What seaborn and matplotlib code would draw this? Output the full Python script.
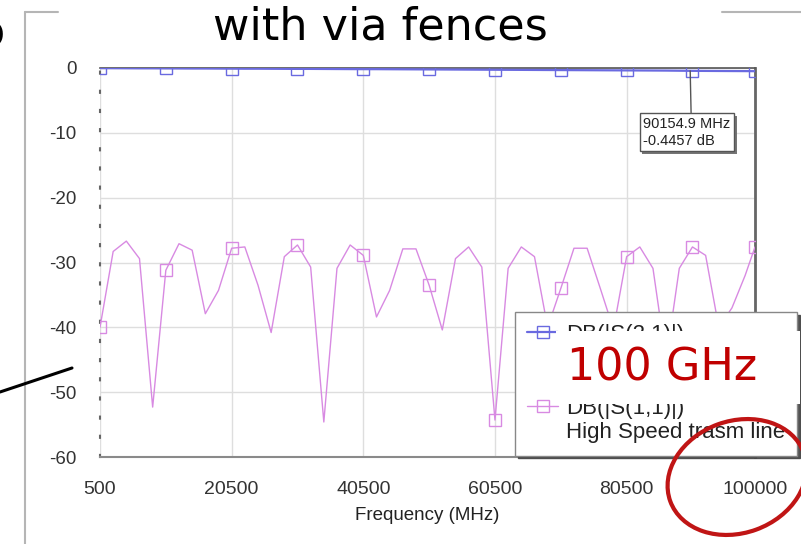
import matplotlib
matplotlib.use("Agg")
import matplotlib.pyplot as plt
import seaborn as sns
import pandas as pd
from matplotlib.patches import Rectangle, Ellipse
from matplotlib.lines import Line2D
from matplotlib.transforms import IdentityTransform
import matplotlib.patheffects as pe

# ---------------- data ----------------
freq_mhz = [500, 2500, 4500, 6500, 8500, 10500, 12500, 14500, 16500, 18500,
            20500, 22500, 24500, 26500, 28500, 30500, 32500, 34500, 36500, 38500,
            40500, 42500, 44500, 46500, 48500, 50500, 52500, 54500, 56500, 58500,
            60500, 62500, 64500, 66500, 68500, 70500, 72500, 74500, 76500, 78500,
            80500, 82500, 84500, 86500, 88500, 90500, 92500, 94500, 96500, 98500,
            100000]

s21_db = [-0.02, -0.03, -0.04, -0.05, -0.05, -0.06, -0.07, -0.08, -0.08, -0.09,
          -0.10, -0.11, -0.11, -0.12, -0.13, -0.14, -0.14, -0.15, -0.16, -0.17,
          -0.18, -0.18, -0.19, -0.20, -0.21, -0.22, -0.23, -0.24, -0.25, -0.26,
          -0.27, -0.28, -0.29, -0.30, -0.31, -0.32, -0.33, -0.34, -0.35, -0.36,
          -0.37, -0.38, -0.39, -0.40, -0.42, -0.44, -0.45, -0.46, -0.47, -0.48,
          -0.49]

s11_db = [-40.0, -28.3, -26.7, -29.4, -52.3, -31.2, -27.1, -28.1, -37.9, -34.3,
          -27.8, -27.6, -33.5, -40.8, -29.1, -27.3, -30.7, -54.6, -30.9, -27.3,
          -28.9, -38.4, -34.3, -27.9, -27.9, -33.5, -40.4, -29.4, -27.6, -30.7,
          -54.3, -30.9, -27.6, -29.1, -40.0, -34.0, -27.8, -27.8, -34.0, -40.3,
          -29.1, -27.6, -30.9, -45.0, -30.9, -27.6, -28.9, -40.0, -37.0, -32.0,
          -27.6]

x_ticks = [500, 20500, 40500, 60500, 80500, 100000]
x_tick_labels = ["500", "20500", "40500", "60500", "80500", "100000"]
y_ticks = [0, -10, -20, -30, -40, -50, -60]
y_tick_labels = ["0", "-10", "-20", "-30", "-40", "-50", "-60"]
legend_lines = ["DB(|S(2,1)|)", "High Speed trasm line", " ",
                "DB(|S(1,1)|)", "High Speed trasm line"]
marker_freq = 90154.9
marker_db = -0.4457

# ---------------- style ----------------
sns.set_style("white")
plt.rcParams["font.family"] = ["Liberation Sans", "DejaVu Sans"]

W, H = 801, 544
BLUE = "#6a6ae0"
MAGENTA = "#d88ae2"

fig = plt.figure(figsize=(W / 100, H / 100), dpi=100)
fig.patch.set_facecolor("white")
ax = fig.add_axes([100 / W, 1 - 457 / H, 655 / W, 389 / H])

df = pd.DataFrame({"freq": freq_mhz, "s21": s21_db, "s11": s11_db})

sns.lineplot(data=df, x="freq", y="s21", ax=ax, color=BLUE, linewidth=1.6,
             marker="s", markersize=8, markevery=5, markerfacecolor="none",
             markeredgecolor=BLUE, markeredgewidth=1.0, zorder=4)
sns.lineplot(data=df, x="freq", y="s11", ax=ax, color=MAGENTA, linewidth=1.0,
             marker="s", markersize=8.5, markevery=5, markerfacecolor="none",
             markeredgecolor=MAGENTA, markeredgewidth=1.0, zorder=3)
for ln in ax.get_lines():
    ln.set_clip_on(True)
    ln.set_clip_box(ax.bbox)

ax.set_xlim(500, 100000)
ax.set_ylim(-60, 0)
ax.set_xticks(x_ticks)
ax.set_xticklabels(x_tick_labels)
ax.set_yticks(y_ticks)
ax.set_yticklabels(y_tick_labels)
ax.grid(True, color="#dedede", linewidth=1.0)
ax.tick_params(axis="both", length=0, colors="#333333")
ax.tick_params(axis="x", labelsize=14, pad=17)
ax.tick_params(axis="y", labelsize=13.5, pad=17)
ax.set_xlabel("Frequency (MHz)", fontsize=13.5, color="#222222", labelpad=7)
ax.set_ylabel("")

for side in ["top", "right", "bottom", "left"]:
    ax.spines[side].set_visible(True)
ax.spines["right"].set_color("#666666")
ax.spines["right"].set_linewidth(2.0)
ax.spines["bottom"].set_color("#8a8a8a")
ax.spines["bottom"].set_linewidth(1.5)
ax.spines["top"].set_color("#555555")
ax.spines["top"].set_linewidth(1.2)
ax.spines["left"].set_color("#666666")
ax.spines["left"].set_linewidth(1.5)
ax.spines["left"].set_linestyle((0, (1.0, 8.2)))

# marker readout
ann = ax.annotate(f"{marker_freq} MHz\n{marker_db} dB",
                  xy=(marker_freq, marker_db), xytext=(-47, -46),
                  textcoords="offset pixels", ha="left", va="top",
                  fontsize=10.5, color="#222222", linespacing=1.25,
                  bbox=dict(boxstyle="square,pad=0.25", fc="white", ec="#555555", lw=1.0),
                  arrowprops=dict(arrowstyle="-", color="#555555", lw=1.0,
                                  relpos=(0.55, 1.0), shrinkA=0, shrinkB=0),
                  zorder=10)
ann.get_bbox_patch().set_path_effects(
    [pe.withSimplePatchShadow(offset=(2, -2), shadow_rgbFace="#666666", alpha=0.9)])

# legend (two series, each with a second description line)
s21_line, s11_line = ax.get_lines()[:2]
blank = Line2D([], [], color="none")
leg = ax.legend([s21_line, blank, blank, s11_line, blank], legend_lines,
                loc="upper left",
                bbox_to_anchor=(515 / W, 1 - 312 / H), bbox_transform=fig.transFigure,
                fontsize=16, frameon=True, fancybox=False,
                shadow={"color": "#444444", "alpha": 0.9},
                borderaxespad=0, borderpad=0.55, handlelength=1.4,
                handletextpad=0.35, labelspacing=0.16)
leg.get_frame().set_edgecolor("#888888")
leg.get_frame().set_linewidth(1.0)
for t in leg.get_texts():
    t.set_color("#222222")
leg.set_zorder(20)

# ---------------- slide decorations ----------------
T = IdentityTransform()


def line_px(xs, ys, **kw):
    fig.add_artist(Line2D(xs, [H - y for y in ys], transform=T, **kw))


line_px([25, 25], [12, 544], color="#b5b5b5", lw=1.5)
line_px([25, 58], [12, 12], color="#b5b5b5", lw=1.5)
line_px([722, 801], [12, 12], color="#b5b5b5", lw=1.5)
line_px([0, 72], [392, 368], color="black", lw=2.2)

fig.text(380 / W, 1 - 40 / H, "with via fences", fontsize=32, ha="center",
         va="baseline", color="black", family="DejaVu Sans")
fig.text(-23 / W, 1 - 45 / H, "b", fontsize=32, ha="left", va="baseline",
         color="black", family="DejaVu Sans")

fig.add_artist(Rectangle((556, H - 404), 244, 73, transform=T,
                         facecolor="white", edgecolor="none", zorder=30))
fig.text(662 / W, 1 - 368 / H, "100 GHz", fontsize=32, ha="center", va="center",
         color="#c00000", family="DejaVu Sans", zorder=31)
fig.add_artist(Ellipse((737, H - 477), 142, 112, angle=20, transform=T,
                       fill=False, edgecolor="#c01515", lw=3.0, zorder=32))

fig.savefig("out.png", dpi=100)
